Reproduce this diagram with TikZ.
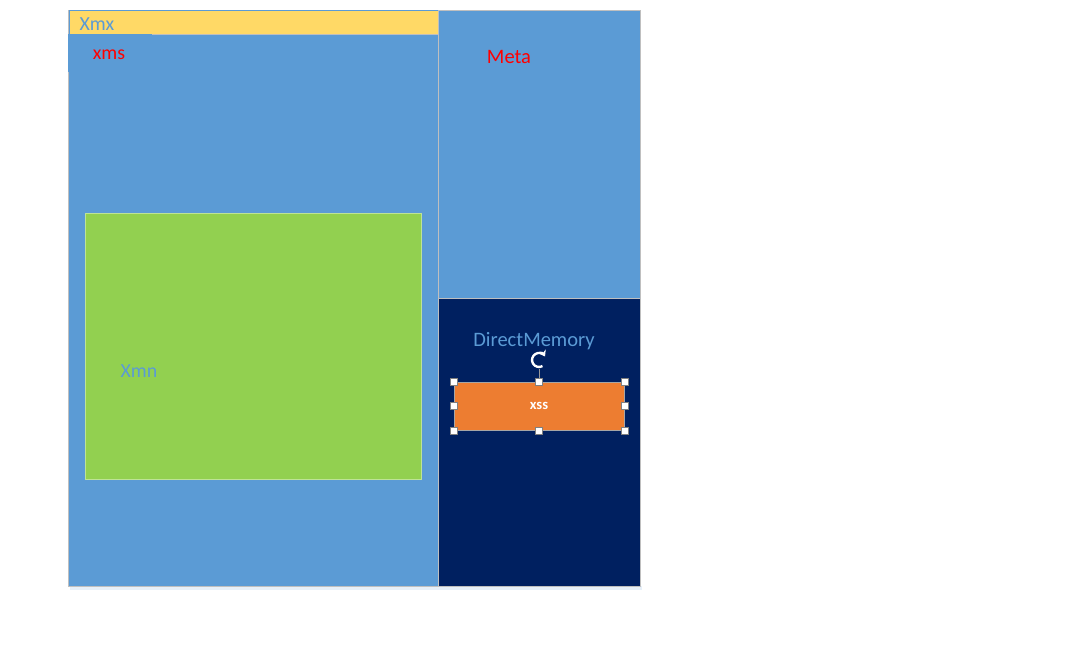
\documentclass[tikz,border=0pt]{standalone}
\usepackage{fontspec}
\setmainfont{Carlito}
\usetikzlibrary{positioning, fit, arrows.meta}

\definecolor{heapblue}{HTML}{5B9BD5}
\definecolor{barYellow}{HTML}{FFD966}
\definecolor{youngGreen}{HTML}{92D050}
\definecolor{navy}{HTML}{002060}
\definecolor{stackOrange}{HTML}{ED7D31}
\definecolor{edgeGrey}{HTML}{BFBFBF}

\begin{document}
\begin{tikzpicture}[
    x=0.03cm, y=-0.03cm,
    region/.style={rectangle, inner sep=0pt, draw=edgeGrey, line width=0.6pt},
    label/.style={font=\fontsize{17}{19}\selectfont, anchor=center},
    handle/.style={rectangle, draw=gray, fill=white, line width=0.4pt, minimum size=6pt, inner sep=0pt}
]
    \useasboundingbox (0,0) rectangle (1089,652);

    % soft shadow under the memory block
    \fill[heapblue!15] (70,586) rectangle (642,590);

    % Heap
    \node[region, fill=heapblue, fit={(68,10) (438,586)}] (heap) {};
    \node[region, fill=barYellow, draw=heapblue, fit={(69,10) (438,34)}] (xmxbar) {};
    \node[rectangle, inner sep=0pt, fill=heapblue, fit={(68,34) (152,72)}] (xmsbox) {};
    \draw[edgeGrey, line width=0.6pt] (152,34) -- (438,34);
    \node[region, fill=youngGreen, draw=youngGreen!60!white, fit={(85,213) (421,479)}] (xmnbox) {};

    % Meta and direct memory
    \node[region, fill=heapblue, fit={(438,10) (640,298)}] (metabox) {};
    \node[region, fill=navy, fit={(438,298) (640,586)}] (directbox) {};

    % Labels
    \node[label, text=heapblue] (xmx) at (97,24) {Xmx};
    \node[label, text=red] (xms) at (109,55) {xms};
    \node[label, text=heapblue] (xmn) at (139,371) {Xmn};
    \node[label, text=red, font=\fontsize{17.5}{19}\selectfont] (meta) at (509,57) {Meta};
    \node[label, text=heapblue, font=\fontsize{17.5}{19}\selectfont] (direct) at (534,341) {DirectMemory};

    % Thread stack box with selection handles
    \node[region, fill=stackOrange, draw=gray!70, fit={(454,382) (624,430)}] (xssbox) {};
    \node[text=white, font=\fontsize{12.5}{14}\selectfont\bfseries] (xss) at (xssbox.center) {xss};
    \coordinate (rot) at (539,360);
    \draw[gray!80, line width=0.5pt] (xssbox.north) -- ++(0,-13);
    \draw[white, line width=2pt, -{Stealth[length=5pt, width=7pt]}] ([shift={(60:7)}]rot) arc[start angle=60, end angle=330, radius=7];
    \node[handle] (hnw) at (xssbox.north west) {};
    \node[handle] (hn) at (xssbox.north) {};
    \node[handle] (hne) at (xssbox.north east) {};
    \node[handle] (he) at (xssbox.east) {};
    \node[handle] (hse) at (xssbox.south east) {};
    \node[handle] (hs) at (xssbox.south) {};
    \node[handle] (hsw) at (xssbox.south west) {};
    \node[handle] (hw) at (xssbox.west) {};
\end{tikzpicture}
\end{document}
